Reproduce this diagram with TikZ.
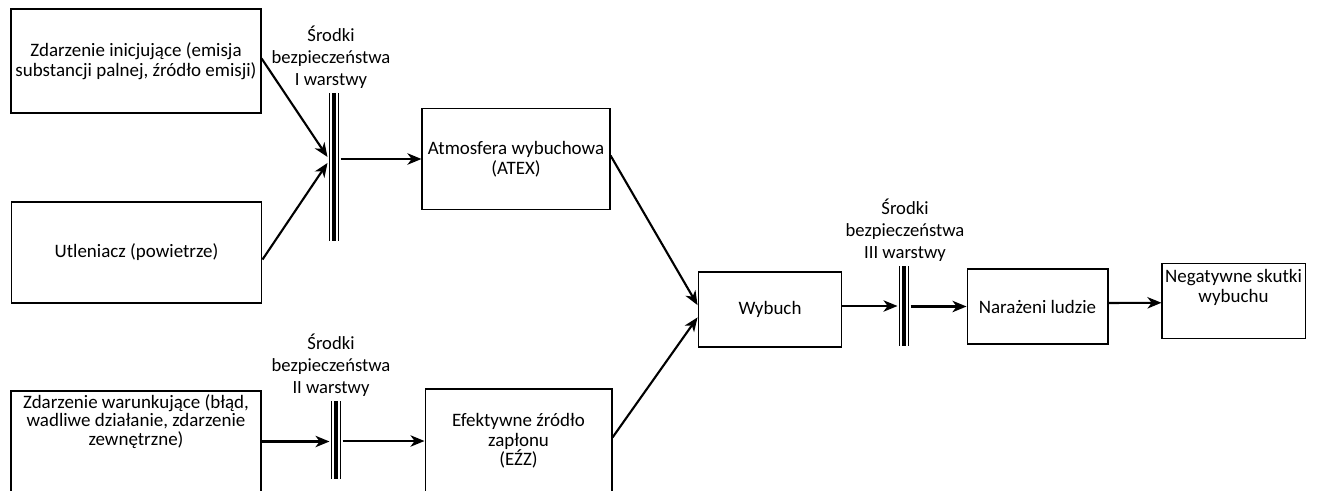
\documentclass[tikz,border=0pt]{standalone}
\usepackage{fontspec}
\setmainfont{Carlito}
\usepackage{tikz}
\usetikzlibrary{arrows.meta}
\usetikzlibrary{positioning}

\newcommand{\wyzej}[2]{\raisebox{#1}[0pt][0pt]{\begin{tabular}{@{}c@{}}#2\end{tabular}}}

\tikzset{
  skrzynka/.style={draw, line width=0.6pt, align=center, inner sep=1pt,
    font=\fontsize{10.8}{11.2}\selectfont},
  etykieta/.style={align=center, inner sep=0pt, font=\fontsize{10.6}{12.6}\selectfont},
  strzalka/.style={-{Stealth[length=8pt,width=6.5pt,inset=2.4pt]}, line width=1.2pt},
  bariera/.style={inner sep=0pt, minimum width=7pt, path picture={
    \draw[line width=0.7pt] ([xshift=-2.6pt]path picture bounding box.north) -- ([xshift=-2.6pt]path picture bounding box.south);
    \draw[line width=1.8pt] (path picture bounding box.north) -- (path picture bounding box.south);
    \draw[line width=0.7pt] ([xshift=2.6pt]path picture bounding box.north) -- ([xshift=2.6pt]path picture bounding box.south);
  }}
}

\begin{document}
\begin{tikzpicture}[x=0.02cm, y=-0.02cm]
\useasboundingbox (0,0) rectangle (1317,490);
\clip (0,0) rectangle (1317,490);
\fill[white] (0,0) rectangle (1317,490);

% zdarzenia
\node[skrzynka, minimum width=142.3pt, minimum height=59.2pt] (zi) at (136,61) {Zdarzenie inicjujące (emisja\\substancji palnej, źródło emisji)};
\node[skrzynka, minimum width=142.8pt, minimum height=57.5pt] (ut) at (136.5,252.5) {Utleniacz (powietrze)};
\node[skrzynka, minimum width=142.3pt, minimum height=57.5pt, font=\fontsize{10.8}{9.7}\selectfont] (zw) at (136,441.5) {\wyzej{8pt}{Zdarzenie warunkujące (błąd,\\wadliwe działanie, zdarzenie\\zewnętrzne)}};
\node[skrzynka, minimum width=107pt, minimum height=58pt] (at) at (516,159) {Atmosfera wybuchowa\\(ATEX)};
\node[skrzynka, minimum width=106.4pt, minimum height=59.2pt] (ez) at (518.5,441) {Efektywne źródło\\zapłonu\\(EŹZ)};
\node[skrzynka, minimum width=81.9pt, minimum height=42.7pt] (wb) at (770,309.5) {Wybuch};
\node[skrzynka, minimum width=80.2pt, minimum height=42.7pt] (nl) at (1037.5,306.5) {Narażeni ludzie};
\node[skrzynka, minimum width=81.4pt, minimum height=43.2pt] (ns) at (1233.5,301) {\wyzej{4.5pt}{Negatywne skutki\\wybuchu}};

% bariery
\node[bariera, minimum height=84.2pt] (b1) at (334,167) {};
\node[bariera, minimum height=44.4pt] (b2) at (336,440) {};
\node[bariera, minimum height=45pt] (b3) at (904,306) {};
\node[etykieta] (e1) at (331,57) {Środki\\bezpieczeństwa\\I warstwy};
\node[etykieta] (e2) at (331,365) {Środki\\bezpieczeństwa\\II warstwy};
\node[etykieta] (e3) at (905,230) {Środki\\bezpieczeństwa\\III warstwy};

% strzalki
\draw[strzalka] ([yshift=1.5pt]zi.east) -- ([yshift=5.7pt]b1.west);
\draw[strzalka] ([yshift=-4pt]ut.east) -- ([yshift=2.3pt]b1.west);
\draw[strzalka] (b1.east |- at.west) -- (at.west);
\draw[strzalka] (zw.east) -- (zw.east -| b2.west);
\draw[strzalka] (b2.east |- ez.west) -- (ez.west);
\draw[strzalka] ([yshift=2pt]at.east) -- ([yshift=2.5pt]wb.west);
\draw[strzalka] ([yshift=2pt]ez.east) -- ([yshift=-4.5pt]wb.west);
\draw[strzalka] (wb.east |- b3.west) -- (b3.west);
\draw[strzalka] (b3.east |- nl.west) -- (nl.west);
\draw[strzalka] ([yshift=2pt]nl.east) -- ([yshift=-1pt]ns.west);
\end{tikzpicture}
\end{document}
